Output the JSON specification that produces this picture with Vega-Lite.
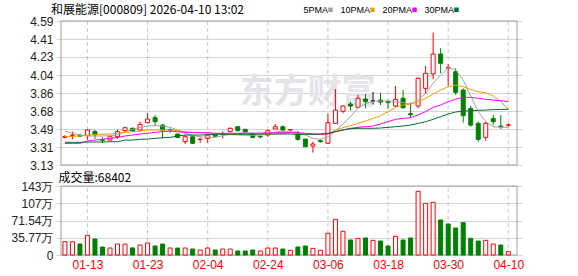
{
  "$schema": "https://vega.github.io/schema/vega-lite/v6.json",
  "autosize": {"type": "none"},
  "padding": {"left": 56, "top": 21, "right": 522, "bottom": 255},
  "background": "white",
  "config": {"view": {"stroke": null}, "font": "Liberation Sans"},
  "spacing": 21,
  "bounds": "flush",
  "title": {"text": "和展能源[000809] 2026-04-10 13:02", "anchor": "start", "frame": "group", "font": "Noto Sans CJK SC", "fontSize": 12, "fontWeight": "normal", "color": "#000000", "offset": 7, "dx": -5, "dy": 19},
  "data": {"values": [
    {"i":0,"d":"01-08","o":3.410,"h":3.430,"l":3.400,"c":3.420,"v":276000,"dir":"up","vdir":"up","5PMA":3.474,"10PMA":3.417,"20PMA":3.349,"30PMA":3.360},
    {"i":1,"d":"01-09","o":3.430,"h":3.470,"l":3.390,"c":3.433,"v":275000,"dir":"up","vdir":"up","5PMA":3.451,"10PMA":3.420,"20PMA":3.349,"30PMA":3.360},
    {"i":2,"d":"01-12","o":3.432,"h":3.445,"l":3.410,"c":3.422,"v":228000,"dir":"down","vdir":"down","5PMA":3.434,"10PMA":3.424,"20PMA":3.349,"30PMA":3.360},
    {"i":3,"d":"01-13","o":3.427,"h":3.495,"l":3.385,"c":3.485,"v":408000,"dir":"up","vdir":"up","5PMA":3.424,"10PMA":3.431,"20PMA":3.373,"30PMA":3.363},
    {"i":4,"d":"01-14","o":3.470,"h":3.485,"l":3.395,"c":3.435,"v":332000,"dir":"down","vdir":"down","5PMA":3.424,"10PMA":3.441,"20PMA":3.383,"30PMA":3.363},
    {"i":5,"d":"01-15","o":3.388,"h":3.410,"l":3.350,"c":3.380,"v":166000,"dir":"down","vdir":"down","5PMA":3.424,"10PMA":3.441,"20PMA":3.390,"30PMA":3.363},
    {"i":6,"d":"01-16","o":3.383,"h":3.420,"l":3.380,"c":3.417,"v":145000,"dir":"up","vdir":"up","5PMA":3.427,"10PMA":3.444,"20PMA":3.400,"30PMA":3.366},
    {"i":7,"d":"01-19","o":3.417,"h":3.490,"l":3.393,"c":3.468,"v":228000,"dir":"up","vdir":"up","5PMA":3.434,"10PMA":3.451,"20PMA":3.410,"30PMA":3.366},
    {"i":8,"d":"01-20","o":3.478,"h":3.518,"l":3.468,"c":3.508,"v":226000,"dir":"up","vdir":"up","5PMA":3.468,"10PMA":3.461,"20PMA":3.424,"30PMA":3.383},
    {"i":9,"d":"01-21","o":3.502,"h":3.510,"l":3.465,"c":3.475,"v":147000,"dir":"down","vdir":"down","5PMA":3.491,"10PMA":3.468,"20PMA":3.434,"30PMA":3.383},
    {"i":10,"d":"01-22","o":3.485,"h":3.569,"l":3.468,"c":3.542,"v":207000,"dir":"up","vdir":"up","5PMA":3.512,"10PMA":3.474,"20PMA":3.444,"30PMA":3.390},
    {"i":11,"d":"01-23","o":3.559,"h":3.654,"l":3.552,"c":3.596,"v":249000,"dir":"up","vdir":"up","5PMA":3.525,"10PMA":3.485,"20PMA":3.451,"30PMA":3.393},
    {"i":12,"d":"01-26","o":3.610,"h":3.637,"l":3.525,"c":3.569,"v":187000,"dir":"down","vdir":"down","5PMA":3.529,"10PMA":3.485,"20PMA":3.461,"30PMA":3.400},
    {"i":13,"d":"01-27","o":3.535,"h":3.546,"l":3.400,"c":3.485,"v":228000,"dir":"down","vdir":"down","5PMA":3.525,"10PMA":3.485,"20PMA":3.468,"30PMA":3.407},
    {"i":14,"d":"01-28","o":3.490,"h":3.500,"l":3.455,"c":3.487,"v":145000,"dir":"down","vdir":"up","5PMA":3.512,"10PMA":3.485,"20PMA":3.474,"30PMA":3.410},
    {"i":15,"d":"01-29","o":3.444,"h":3.450,"l":3.400,"c":3.410,"v":144000,"dir":"down","vdir":"down","5PMA":3.485,"10PMA":3.478,"20PMA":3.468,"30PMA":3.424},
    {"i":16,"d":"01-30","o":3.367,"h":3.434,"l":3.343,"c":3.417,"v":145000,"dir":"up","vdir":"up","5PMA":3.451,"10PMA":3.468,"20PMA":3.461,"30PMA":3.434},
    {"i":17,"d":"02-02","o":3.417,"h":3.434,"l":3.343,"c":3.350,"v":124000,"dir":"down","vdir":"down","5PMA":3.427,"10PMA":3.461,"20PMA":3.458,"30PMA":3.434},
    {"i":18,"d":"02-03","o":3.388,"h":3.410,"l":3.356,"c":3.392,"v":104000,"dir":"up","vdir":"up","5PMA":3.417,"10PMA":3.458,"20PMA":3.458,"30PMA":3.434},
    {"i":19,"d":"02-04","o":3.400,"h":3.450,"l":3.356,"c":3.434,"v":145000,"dir":"up","vdir":"up","5PMA":3.410,"10PMA":3.451,"20PMA":3.458,"30PMA":3.437},
    {"i":20,"d":"02-05","o":3.434,"h":3.440,"l":3.410,"c":3.422,"v":104000,"dir":"down","vdir":"down","5PMA":3.410,"10PMA":3.451,"20PMA":3.451,"30PMA":3.441},
    {"i":21,"d":"02-06","o":3.443,"h":3.470,"l":3.400,"c":3.446,"v":124000,"dir":"up","vdir":"up","5PMA":3.427,"10PMA":3.444,"20PMA":3.451,"30PMA":3.441},
    {"i":22,"d":"02-09","o":3.468,"h":3.510,"l":3.460,"c":3.502,"v":124000,"dir":"up","vdir":"up","5PMA":3.441,"10PMA":3.437,"20PMA":3.451,"30PMA":3.441},
    {"i":23,"d":"02-10","o":3.518,"h":3.522,"l":3.470,"c":3.478,"v":83000,"dir":"down","vdir":"down","5PMA":3.451,"10PMA":3.434,"20PMA":3.451,"30PMA":3.441},
    {"i":24,"d":"02-11","o":3.492,"h":3.495,"l":3.460,"c":3.465,"v":83000,"dir":"down","vdir":"down","5PMA":3.458,"10PMA":3.431,"20PMA":3.451,"30PMA":3.441},
    {"i":25,"d":"02-12","o":3.451,"h":3.455,"l":3.400,"c":3.410,"v":104000,"dir":"down","vdir":"down","5PMA":3.451,"10PMA":3.431,"20PMA":3.451,"30PMA":3.441},
    {"i":26,"d":"02-13","o":3.420,"h":3.434,"l":3.400,"c":3.415,"v":83000,"dir":"down","vdir":"up","5PMA":3.444,"10PMA":3.434,"20PMA":3.454,"30PMA":3.444},
    {"i":27,"d":"02-24","o":3.434,"h":3.490,"l":3.417,"c":3.478,"v":145000,"dir":"up","vdir":"up","5PMA":3.451,"10PMA":3.437,"20PMA":3.454,"30PMA":3.444},
    {"i":28,"d":"02-25","o":3.495,"h":3.545,"l":3.495,"c":3.518,"v":145000,"dir":"up","vdir":"up","5PMA":3.464,"10PMA":3.444,"20PMA":3.458,"30PMA":3.444},
    {"i":29,"d":"02-26","o":3.518,"h":3.530,"l":3.468,"c":3.485,"v":124000,"dir":"down","vdir":"down","5PMA":3.471,"10PMA":3.451,"20PMA":3.458,"30PMA":3.444},
    {"i":30,"d":"02-27","o":3.485,"h":3.492,"l":3.480,"c":3.490,"v":97000,"dir":"up","vdir":"up","5PMA":3.471,"10PMA":3.458,"20PMA":3.458,"30PMA":3.444},
    {"i":31,"d":"03-02","o":3.451,"h":3.475,"l":3.376,"c":3.390,"v":166000,"dir":"down","vdir":"down","5PMA":3.458,"10PMA":3.451,"20PMA":3.458,"30PMA":3.441},
    {"i":32,"d":"03-03","o":3.393,"h":3.395,"l":3.310,"c":3.316,"v":187000,"dir":"down","vdir":"down","5PMA":3.434,"10PMA":3.447,"20PMA":3.451,"30PMA":3.441},
    {"i":33,"d":"03-04","o":3.322,"h":3.366,"l":3.255,"c":3.343,"v":138000,"dir":"up","vdir":"up","5PMA":3.400,"10PMA":3.444,"20PMA":3.444,"30PMA":3.441},
    {"i":34,"d":"03-05","o":3.377,"h":3.390,"l":3.356,"c":3.367,"v":97000,"dir":"down","vdir":"up","5PMA":3.390,"10PMA":3.441,"20PMA":3.441,"30PMA":3.444},
    {"i":35,"d":"03-06","o":3.350,"h":3.647,"l":3.343,"c":3.559,"v":449000,"dir":"up","vdir":"up","5PMA":3.417,"10PMA":3.444,"20PMA":3.444,"30PMA":3.451},
    {"i":36,"d":"03-09","o":3.552,"h":3.900,"l":3.546,"c":3.687,"v":740000,"dir":"up","vdir":"up","5PMA":3.475,"10PMA":3.485,"20PMA":3.468,"30PMA":3.468},
    {"i":37,"d":"03-10","o":3.674,"h":3.738,"l":3.654,"c":3.728,"v":491000,"dir":"up","vdir":"up","5PMA":3.545,"10PMA":3.508,"20PMA":3.485,"30PMA":3.485},
    {"i":38,"d":"03-11","o":3.748,"h":3.772,"l":3.681,"c":3.728,"v":311000,"dir":"down","vdir":"down","5PMA":3.620,"10PMA":3.529,"20PMA":3.502,"30PMA":3.498},
    {"i":39,"d":"03-12","o":3.715,"h":3.840,"l":3.704,"c":3.806,"v":346000,"dir":"up","vdir":"up","5PMA":3.705,"10PMA":3.552,"20PMA":3.512,"30PMA":3.502},
    {"i":40,"d":"03-13","o":3.799,"h":3.850,"l":3.704,"c":3.772,"v":353000,"dir":"down","vdir":"down","5PMA":3.750,"10PMA":3.576,"20PMA":3.518,"30PMA":3.502},
    {"i":41,"d":"03-16","o":3.778,"h":3.870,"l":3.742,"c":3.778,"v":304000,"dir":"flat","vdir":"up","5PMA":3.772,"10PMA":3.603,"20PMA":3.525,"30PMA":3.502},
    {"i":42,"d":"03-17","o":3.789,"h":3.863,"l":3.738,"c":3.768,"v":290000,"dir":"down","vdir":"down","5PMA":3.780,"10PMA":3.630,"20PMA":3.545,"30PMA":3.505},
    {"i":43,"d":"03-18","o":3.772,"h":3.790,"l":3.700,"c":3.762,"v":187000,"dir":"down","vdir":"down","5PMA":3.779,"10PMA":3.671,"20PMA":3.569,"30PMA":3.512},
    {"i":44,"d":"03-19","o":3.728,"h":3.931,"l":3.715,"c":3.796,"v":387000,"dir":"up","vdir":"up","5PMA":3.772,"10PMA":3.714,"20PMA":3.593,"30PMA":3.518},
    {"i":45,"d":"03-20","o":3.806,"h":3.890,"l":3.700,"c":3.711,"v":311000,"dir":"down","vdir":"down","5PMA":3.762,"10PMA":3.738,"20PMA":3.603,"30PMA":3.525},
    {"i":46,"d":"03-23","o":3.650,"h":3.762,"l":3.610,"c":3.640,"v":353000,"dir":"down","vdir":"down","5PMA":3.748,"10PMA":3.745,"20PMA":3.610,"30PMA":3.535},
    {"i":47,"d":"03-24","o":3.728,"h":4.019,"l":3.705,"c":4.009,"v":1320000,"dir":"up","vdir":"up","5PMA":3.789,"10PMA":3.772,"20PMA":3.637,"30PMA":3.552},
    {"i":48,"d":"03-25","o":3.907,"h":4.134,"l":3.850,"c":4.060,"v":1071000,"dir":"up","vdir":"up","5PMA":3.856,"10PMA":3.806,"20PMA":3.671,"30PMA":3.569},
    {"i":49,"d":"03-26","o":4.053,"h":4.472,"l":3.998,"c":4.255,"v":1092000,"dir":"up","vdir":"up","5PMA":3.958,"10PMA":3.850,"20PMA":3.714,"30PMA":3.593},
    {"i":50,"d":"03-27","o":4.255,"h":4.313,"l":4.060,"c":4.161,"v":726000,"dir":"down","vdir":"down","5PMA":4.042,"10PMA":3.890,"20PMA":3.738,"30PMA":3.620},
    {"i":51,"d":"03-30","o":4.113,"h":4.154,"l":3.934,"c":4.117,"v":643000,"dir":"up","vdir":"down","5PMA":4.117,"10PMA":3.924,"20PMA":3.772,"30PMA":3.647},
    {"i":52,"d":"03-31","o":4.076,"h":4.110,"l":3.840,"c":3.867,"v":560000,"dir":"down","vdir":"down","5PMA":4.093,"10PMA":3.941,"20PMA":3.796,"30PMA":3.667},
    {"i":53,"d":"04-01","o":3.890,"h":3.907,"l":3.559,"c":3.630,"v":670000,"dir":"down","vdir":"down","5PMA":3.992,"10PMA":3.924,"20PMA":3.816,"30PMA":3.677},
    {"i":54,"d":"04-02","o":3.704,"h":3.728,"l":3.518,"c":3.535,"v":346000,"dir":"down","vdir":"down","5PMA":3.829,"10PMA":3.897,"20PMA":3.816,"30PMA":3.681},
    {"i":55,"d":"04-03","o":3.552,"h":3.569,"l":3.366,"c":3.390,"v":290000,"dir":"down","vdir":"down","5PMA":3.671,"10PMA":3.873,"20PMA":3.806,"30PMA":3.684},
    {"i":56,"d":"04-07","o":3.410,"h":3.569,"l":3.376,"c":3.552,"v":304000,"dir":"up","vdir":"up","5PMA":3.569,"10PMA":3.863,"20PMA":3.796,"30PMA":3.687},
    {"i":57,"d":"04-08","o":3.600,"h":3.637,"l":3.535,"c":3.569,"v":228000,"dir":"down","vdir":"up","5PMA":3.518,"10PMA":3.829,"20PMA":3.789,"30PMA":3.691},
    {"i":58,"d":"04-09","o":3.525,"h":3.637,"l":3.495,"c":3.518,"v":207000,"dir":"down","vdir":"down","5PMA":3.512,"10PMA":3.772,"20PMA":3.782,"30PMA":3.694},
    {"i":59,"d":"04-10","o":3.532,"h":3.552,"l":3.518,"c":3.537,"v":68402,"dir":"up","vdir":"up","5PMA":3.512,"10PMA":3.694,"20PMA":3.772,"30PMA":3.694}
  ]},
  "vconcat": [
    {
      "width": 466,
      "height": 144,
      "encoding": {
        "x": {"field": "i", "type": "quantitative", "scale": {"domain": [-0.52, 60.16], "nice": false, "zero": false}, "axis": null}
      },
      "layer": [
        {
          "transform": [{"filter": "datum.i == 0"}],
          "mark": {"type": "text", "text": "东方财富", "font": "Noto Sans CJK SC", "fontSize": 34, "fontWeight": "bold", "color": "#e4e4e8", "align": "center", "baseline": "middle"},
          "encoding": {
            "x": {"datum": 32.3, "type": "quantitative", "axis": null},
            "y": {"datum": 3.86, "type": "quantitative", "scale": {"domain": [3.13, 4.59], "nice": false, "zero": false},
              "axis": {"orient": "left", "values": [3.13, 3.3125, 3.494, 3.6775, 3.86, 4.0425, 4.226, 4.4075, 4.59], "format": ".2f", "title": null, "domain": false, "ticks": false, "labelPadding": 3, "labelFlush": false, "labelOverlap": false, "labelFontSize": 12, "labelFont": "Liberation Sans", "labelColor": "#222222", "grid": true, "gridColor": "#d4d4d4", "gridWidth": 1}}
          }
        },
        {
          "transform": [{"filter": {"field": "i", "oneOf": [3, 11, 19, 27, 35, 43, 51, 59]}}],
          "mark": {"type": "rule", "color": "#c8c8c8", "strokeDash": [4, 3], "strokeWidth": 1},
          "encoding": {
            "y": {"datum": 3.13, "type": "quantitative",
              "axis": {"orient": "left", "values": [3.13, 3.3125, 3.494, 3.6775, 3.86, 4.0425, 4.226, 4.4075, 4.59], "format": ".2f", "title": null, "domain": false, "ticks": false, "labelPadding": 3, "labelFlush": false, "labelOverlap": false, "labelFontSize": 12, "labelFont": "Liberation Sans", "labelColor": "#222222", "grid": true, "gridColor": "#d4d4d4", "gridWidth": 1}},
            "y2": {"datum": 4.59}
          }
        },
        {
          "transform": [{"filter": "datum.i == 0"}],
          "mark": {"type": "rect", "filled": false, "color": "#a0a0a0", "strokeWidth": 1},
          "encoding": {
            "x": {"datum": -0.52, "type": "quantitative", "axis": null},
            "x2": {"datum": 60.16},
            "y": {"datum": 3.13, "type": "quantitative",
              "axis": {"orient": "left", "values": [3.13, 3.3125, 3.494, 3.6775, 3.86, 4.0425, 4.226, 4.4075, 4.59], "format": ".2f", "title": null, "domain": false, "ticks": false, "labelPadding": 3, "labelFlush": false, "labelOverlap": false, "labelFontSize": 12, "labelFont": "Liberation Sans", "labelColor": "#222222", "grid": true, "gridColor": "#d4d4d4", "gridWidth": 1}},
            "y2": {"datum": 4.59}
          }
        },
        {
          "mark": {"type": "rule", "strokeWidth": 1},
          "encoding": {
            "y": {"field": "l", "type": "quantitative",
              "axis": {"orient": "left", "values": [3.13, 3.3125, 3.494, 3.6775, 3.86, 4.0425, 4.226, 4.4075, 4.59], "format": ".2f", "title": null, "domain": false, "ticks": false, "labelPadding": 3, "labelFlush": false, "labelOverlap": false, "labelFontSize": 12, "labelFont": "Liberation Sans", "labelColor": "#222222", "grid": true, "gridColor": "#d4d4d4", "gridWidth": 1}},
            "y2": {"field": "h"},
            "color": {"condition": [{"test": "datum.dir === 'up'", "value": "#ff0000"}, {"test": "datum.dir === 'flat'", "value": "#000000"}], "value": "#008000"}
          }
        },
        {
          "mark": {"type": "bar", "width": 4, "strokeWidth": 1},
          "encoding": {
            "y": {"field": "o", "type": "quantitative",
              "axis": {"orient": "left", "values": [3.13, 3.3125, 3.494, 3.6775, 3.86, 4.0425, 4.226, 4.4075, 4.59], "format": ".2f", "title": null, "domain": false, "ticks": false, "labelPadding": 3, "labelFlush": false, "labelOverlap": false, "labelFontSize": 12, "labelFont": "Liberation Sans", "labelColor": "#222222", "grid": true, "gridColor": "#d4d4d4", "gridWidth": 1}},
            "y2": {"field": "c"},
            "stroke": {"condition": [{"test": "datum.dir === 'up'", "value": "#ff0000"}, {"test": "datum.dir === 'flat'", "value": "#000000"}], "value": "#008000"},
            "fill": {"condition": [{"test": "datum.dir === 'up'", "value": "#ffffff"}, {"test": "datum.dir === 'flat'", "value": "#000000"}], "value": "#008000"}
          }
        },
        {
          "transform": [{"fold": ["5PMA", "10PMA", "20PMA", "30PMA"], "as": ["k", "val"]}],
          "mark": {"type": "line", "strokeWidth": 1},
          "encoding": {
            "y": {"field": "val", "type": "quantitative",
              "axis": {"orient": "left", "values": [3.13, 3.3125, 3.494, 3.6775, 3.86, 4.0425, 4.226, 4.4075, 4.59], "format": ".2f", "title": null, "domain": false, "ticks": false, "labelPadding": 3, "labelFlush": false, "labelOverlap": false, "labelFontSize": 12, "labelFont": "Liberation Sans", "labelColor": "#222222", "grid": true, "gridColor": "#d4d4d4", "gridWidth": 1}},
            "color": {"field": "k", "type": "nominal",
              "scale": {"domain": ["5PMA", "10PMA", "20PMA", "30PMA"], "range": ["#a3a3a3", "#f0a000", "#ff00ff", "#006e32"]},
              "legend": {"orient": "none", "legendX": 270, "legendY": -16, "direction": "horizontal", "title": null, "symbolType": "square", "symbolSize": 20, "symbolStrokeWidth": 0, "labelFontSize": 9, "labelFont": "Liberation Sans", "labelColor": "#000000", "labelAlign": "right", "labelOffset": -7, "columnPadding": 7, "padding": 0,
                "encode": {"symbols": {"update": {"fill": {"scale": "color", "field": "value"}, "stroke": {"value": "transparent"}}}}}}
          }
        }
      ]
    },
    {
      "width": 466,
      "height": 69,
      "encoding": {
        "x": {"field": "i", "type": "quantitative",
          "scale": {"domain": [-0.52, 60.16], "nice": false, "zero": false},
          "axis": {"orient": "bottom", "values": [3, 11, 19, 27, 35, 43, 51, 59], "title": null, "grid": false, "domain": false, "ticks": false, "labelPadding": 4, "labelFlush": false, "labelOverlap": false, "labelFontSize": 12, "labelFont": "Liberation Sans", "labelColor": "#ff0000",
            "labelExpr": "datum.value==3?'01-13':datum.value==11?'01-23':datum.value==19?'02-04':datum.value==27?'02-24':datum.value==35?'03-06':datum.value==43?'03-18':datum.value==51?'03-30':'04-10'"}}
      },
      "layer": [
        {
          "transform": [{"filter": {"field": "i", "oneOf": [3, 11, 19, 27, 35, 43, 51, 59]}}],
          "mark": {"type": "rule", "color": "#c8c8c8", "strokeDash": [4, 3], "strokeWidth": 1},
          "encoding": {
            "y": {"datum": 0, "type": "quantitative", "scale": {"domain": [0, 1430800], "nice": false, "zero": true},
              "axis": {"orient": "left", "values": [0, 357700, 715400, 1073100, 1430800], "title": "成交量:68402", "titleAngle": 0, "titleAlign": "left", "titleBaseline": "middle", "titleX": 2, "titleY": -9, "titleFont": "Noto Sans CJK SC", "titleFontSize": 12, "titleFontWeight": "normal", "titleColor": "#000000", "domain": false, "ticks": false, "labelPadding": 3, "labelFlush": false, "labelOverlap": false, "labelFontSize": 12, "labelFont": "Liberation Sans", "labelColor": "#222222", "grid": true, "gridColor": "#d4d4d4", "gridWidth": 1,
                "labelExpr": "datum.value==0?'0':datum.value>=1000000?format(datum.value/10000,'.0f')+'万':format(datum.value/10000,'.2f')+'万'"}},
            "y2": {"datum": 1430800}
          }
        },
        {
          "transform": [{"filter": "datum.i == 0"}],
          "mark": {"type": "rect", "filled": false, "color": "#a0a0a0", "strokeWidth": 1},
          "encoding": {
            "x": {"datum": -0.52, "type": "quantitative",
              "axis": {"orient": "bottom", "values": [3, 11, 19, 27, 35, 43, 51, 59], "title": null, "grid": false, "domain": false, "ticks": false, "labelPadding": 4, "labelFlush": false, "labelOverlap": false, "labelFontSize": 12, "labelFont": "Liberation Sans", "labelColor": "#ff0000",
                "labelExpr": "datum.value==3?'01-13':datum.value==11?'01-23':datum.value==19?'02-04':datum.value==27?'02-24':datum.value==35?'03-06':datum.value==43?'03-18':datum.value==51?'03-30':'04-10'"}},
            "x2": {"datum": 60.16},
            "y": {"datum": 0, "type": "quantitative",
              "axis": {"orient": "left", "values": [0, 357700, 715400, 1073100, 1430800], "title": "成交量:68402", "titleAngle": 0, "titleAlign": "left", "titleBaseline": "middle", "titleX": 2, "titleY": -9, "titleFont": "Noto Sans CJK SC", "titleFontSize": 12, "titleFontWeight": "normal", "titleColor": "#000000", "domain": false, "ticks": false, "labelPadding": 3, "labelFlush": false, "labelOverlap": false, "labelFontSize": 12, "labelFont": "Liberation Sans", "labelColor": "#222222", "grid": true, "gridColor": "#d4d4d4", "gridWidth": 1,
                "labelExpr": "datum.value==0?'0':datum.value>=1000000?format(datum.value/10000,'.0f')+'万':format(datum.value/10000,'.2f')+'万'"}},
            "y2": {"datum": 1430800}
          }
        },
        {
          "mark": {"type": "bar", "width": 4, "strokeWidth": 1},
          "encoding": {
            "y": {"field": "v", "type": "quantitative",
              "axis": {"orient": "left", "values": [0, 357700, 715400, 1073100, 1430800], "title": "成交量:68402", "titleAngle": 0, "titleAlign": "left", "titleBaseline": "middle", "titleX": 2, "titleY": -9, "titleFont": "Noto Sans CJK SC", "titleFontSize": 12, "titleFontWeight": "normal", "titleColor": "#000000", "domain": false, "ticks": false, "labelPadding": 3, "labelFlush": false, "labelOverlap": false, "labelFontSize": 12, "labelFont": "Liberation Sans", "labelColor": "#222222", "grid": true, "gridColor": "#d4d4d4", "gridWidth": 1,
                "labelExpr": "datum.value==0?'0':datum.value>=1000000?format(datum.value/10000,'.0f')+'万':format(datum.value/10000,'.2f')+'万'"}},
            "stroke": {"condition": {"test": "datum.vdir === 'up'", "value": "#ff0000"}, "value": "#008000"},
            "fill": {"condition": {"test": "datum.vdir === 'up'", "value": "#ffffff"}, "value": "#008000"}
          }
        }
      ]
    }
  ]
}
